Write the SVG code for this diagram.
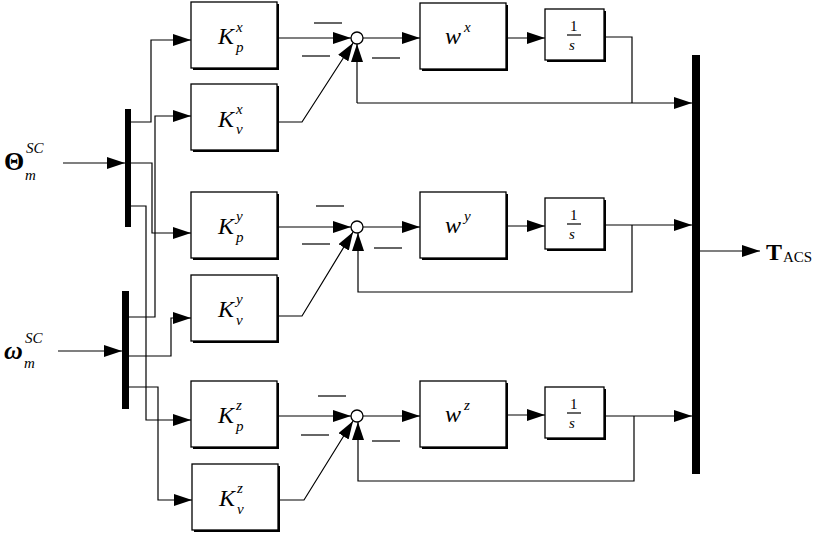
<svg xmlns="http://www.w3.org/2000/svg" width="830" height="535" viewBox="0 0 830 535">
<style>
.b{fill:#fff;stroke:#000;stroke-width:1.3}
.sh{fill:#000}
.l{fill:none;stroke:#000;stroke-width:1.2}
.m{stroke:#000;stroke-width:1.2}
.t{font-family:"Liberation Serif",serif;font-style:italic;font-size:24px}
.s{font-family:"Liberation Serif",serif;font-style:italic;font-size:15px}
.n{font-family:"Liberation Serif",serif;font-size:15px}
.bus{fill:#000}
</style>
<defs>
<marker id="a" markerWidth="18" markerHeight="12" refX="18" refY="6" orient="auto" markerUnits="userSpaceOnUse"><path d="M0,0L18,6L0,12z"/></marker>
<g id="box"><rect class="sh" x="2" y="2" width="86" height="66"/><rect class="b" x="0" y="0" width="86" height="66"/></g>
<g id="ibox"><rect class="sh" x="2" y="2" width="59" height="51"/><rect class="b" x="0" y="0" width="59" height="51"/></g>
</defs>
<g id="buses">
<rect class="bus" x="125" y="109" width="6" height="118"/>
<rect class="bus" x="122" y="291" width="7" height="118"/>
<rect class="bus" x="692" y="55" width="8" height="419"/>
</g>
<g id="inputs">
<text x="4" y="170" font-family="Liberation Serif,serif" font-weight="bold" font-size="26">Θ</text>
<text x="26" y="153" class="s" font-size="16">SC</text><text x="25" y="180" class="s">m</text>
<text x="4" y="359" font-family="Liberation Serif,serif" font-weight="bold" font-style="italic" font-size="26">ω</text>
<text x="25" y="343" class="s" font-size="16">SC</text><text x="24" y="368" class="s">m</text>
<text x="766" y="260" font-family="Liberation Serif,serif" font-weight="bold" font-size="24">T</text>
<text x="783" y="262" class="n">ACS</text>
</g>
<g id="Kpx"><use href="#box" x="191" y="2"/><text class="t" x="218" y="44">K</text><text class="s" x="236" y="32">x</text><text class="s" x="236" y="52">p</text></g>
<g id="Kvx"><use href="#box" x="191" y="84"/><text class="t" x="218" y="127">K</text><text class="s" x="236" y="114">x</text><text class="s" x="236" y="134">v</text></g>
<g id="Kpy"><use href="#box" x="191" y="192"/><text class="t" x="218" y="234">K</text><text class="s" x="236" y="221">y</text><text class="s" x="236" y="242">p</text></g>
<g id="Kvy"><use href="#box" x="191" y="275"/><text class="t" x="218" y="317">K</text><text class="s" x="236" y="304">y</text><text class="s" x="236" y="325">v</text></g>
<g id="Kpz"><use href="#box" x="191" y="381"/><text class="t" x="218" y="423">K</text><text class="s" x="236" y="410">z</text><text class="s" x="236" y="431">p</text></g>
<g id="Kvz"><use href="#box" x="192" y="464"/><text class="t" x="219" y="506">K</text><text class="s" x="237" y="493">z</text><text class="s" x="237" y="514">v</text></g>
<g id="wx"><use href="#box" x="420" y="3"/><text class="t" x="445" y="44">w</text><text class="s" x="464" y="32">x</text></g>
<g id="wy"><use href="#box" x="420" y="192"/><text class="t" x="445" y="233">w</text><text class="s" x="464" y="221">y</text></g>
<g id="wz"><use href="#box" x="420" y="381"/><text class="t" x="445" y="422">w</text><text class="s" x="464" y="410">z</text></g>
<g id="ix"><use href="#ibox" x="545" y="9"/><text class="n" x="570" y="31">1</text><line class="m" x1="567" y1="35" x2="581" y2="35"/><text class="s" x="569" y="50">s</text></g>
<g id="iy"><use href="#ibox" x="545" y="198"/><text class="n" x="570" y="220">1</text><line class="m" x1="567" y1="224" x2="581" y2="224"/><text class="s" x="569" y="239">s</text></g>
<g id="iz"><use href="#ibox" x="545" y="387"/><text class="n" x="570" y="409">1</text><line class="m" x1="567" y1="413" x2="581" y2="413"/><text class="s" x="569" y="428">s</text></g>
<g id="sums">
<circle class="b" cx="357" cy="38" r="6"/><circle class="b" cx="357" cy="227" r="6"/><circle class="b" cx="357" cy="416" r="6"/>
<g class="m">
<line x1="314" y1="23" x2="342" y2="23"/><line x1="302" y1="56" x2="330" y2="56"/><line x1="372" y1="58" x2="400" y2="58"/>
<line x1="316" y1="206" x2="344" y2="206"/><line x1="302" y1="244" x2="330" y2="244"/><line x1="374" y1="248" x2="402" y2="248"/>
<line x1="318" y1="396" x2="346" y2="396"/><line x1="301" y1="435" x2="329" y2="435"/><line x1="372" y1="441" x2="400" y2="441"/>
</g>
</g>
<g id="connectors" class="l">
<path d="M63,163H125" marker-end="url(#a)"/>
<path d="M58,351H122" marker-end="url(#a)"/>
<path d="M131,122H151V40H191" marker-end="url(#a)"/>
<path d="M131,163H152V233H191" marker-end="url(#a)"/>
<path d="M131,206H146V420H191" marker-end="url(#a)"/>
<path d="M129,317H155V116H191" marker-end="url(#a)"/>
<path d="M129,356H171V318H191" marker-end="url(#a)"/>
<path d="M129,387H158V500H192" marker-end="url(#a)"/>
<path d="M277,38H351" marker-end="url(#a)"/>
<path d="M277,122H302L353,43" marker-end="url(#a)"/>
<path d="M357,103V44" marker-end="url(#a)"/>
<path d="M363,38H420" marker-end="url(#a)"/>
<path d="M506,38H545" marker-end="url(#a)"/>
<path d="M604,37H632V103"/>
<path d="M357,103H692" marker-end="url(#a)"/>
<path d="M277,227H351" marker-end="url(#a)"/>
<path d="M277,316H302L353,232" marker-end="url(#a)"/>
<path d="M632,225V292H358V233" marker-end="url(#a)"/>
<path d="M363,227H420" marker-end="url(#a)"/>
<path d="M506,226H545" marker-end="url(#a)"/>
<path d="M604,225H692" marker-end="url(#a)"/>
<path d="M277,416H351" marker-end="url(#a)"/>
<path d="M278,500H304L353,421" marker-end="url(#a)"/>
<path d="M634,416V481H358V422" marker-end="url(#a)"/>
<path d="M363,416H420" marker-end="url(#a)"/>
<path d="M506,415H545" marker-end="url(#a)"/>
<path d="M604,416H692" marker-end="url(#a)"/>
<path d="M700,251H760" marker-end="url(#a)"/>
</g>
</svg>
